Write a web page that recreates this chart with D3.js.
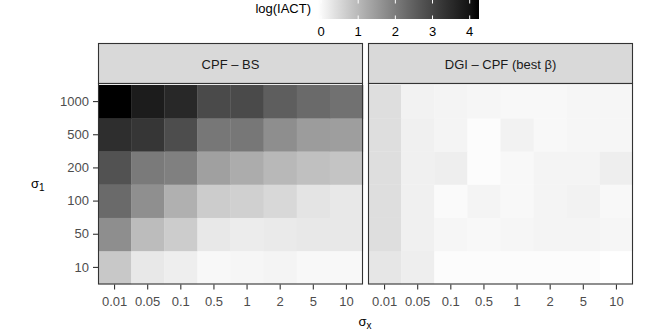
<!DOCTYPE html>
<html>
<head>
<meta charset="utf-8">
<script src="https://cdn.jsdelivr.net/npm/d3@7"></script>
<style>
  body { margin: 0; background: #fff; }
  svg { font-family: "Liberation Sans", Arial, sans-serif; }
  .tick-label { fill: #4d4d4d; font-size: 13px; }
</style>
</head>
<body>
<div id="chart"></div>
<script>
// σx on the x axis, σ1 on the y axis
const sigmaX = ['0.01', '0.05', '0.1', '0.5', '1', '2', '5', '10'];
const sigma1 = ['10', '50', '100', '200', '500', '1000'];
const methods = ['CPF – BS', 'DGI – CPF (best β)'];

// log(IACT), one row per sigma1 (10 .. 1000), columns follow sigmaX
const cpfBs = [
    [0.82, 0.34, 0.25, 0.10, 0.13, 0.16, 0.10, 0.10],
    [1.74, 1.01, 0.77, 0.34, 0.28, 0.31, 0.34, 0.34],
    [2.35, 1.73, 1.19, 0.77, 0.70, 0.58, 0.40, 0.34],
    [2.77, 2.07, 1.97, 1.45, 1.26, 1.07, 0.95, 0.89],
    [3.45, 3.29, 2.86, 2.13, 2.13, 1.74, 1.51, 1.48],
    [4.25, 3.81, 3.57, 2.92, 2.92, 2.55, 2.35, 2.23]
];
const dgiCpf = [
    [0.37, 0.25, 0.05, 0.05, 0.05, 0.05, 0.05, 0.00],
    [0.49, 0.22, 0.13, 0.10, 0.13, 0.16, 0.16, 0.13],
    [0.49, 0.22, 0.07, 0.16, 0.10, 0.16, 0.19, 0.10],
    [0.49, 0.22, 0.25, 0.05, 0.10, 0.16, 0.16, 0.25],
    [0.49, 0.22, 0.16, 0.05, 0.19, 0.10, 0.13, 0.13],
    [0.49, 0.19, 0.16, 0.13, 0.10, 0.10, 0.13, 0.13]
];
const legendTicks = [0, 1, 2, 3, 4];

const width = 664, height = 332;
const panelTop = 85, panelBottom = 284;
const stripTop = 43;
const panels = [
    { name: methods[0], x0: 98, x1: 363, values: cpfBs },
    { name: methods[1], x0: 368, x1: 633, values: dgiCpf }
];

const svg = d3.select('#chart').append('svg')
    .attr('width', width)
    .attr('height', height);

const allValues = cpfBs.flat().concat(dgiCpf.flat());
const maxVal = d3.max(allValues);
const color = d3.scaleSequential(d3.interpolateLab('#ffffff', '#000000'))
    .domain([0, maxVal]);

const yScale = d3.scaleBand()
    .domain(sigma1)
    .range([panelBottom, panelTop])
    .padding(0);

panels.forEach((p, pi) => {
    const xScale = d3.scaleBand()
        .domain(sigmaX)
        .range([p.x0, p.x1])
        .padding(0);

    const cells = [];
    p.values.forEach((row, ri) => {
        row.forEach((v, ci) => cells.push({ x: sigmaX[ci], y: sigma1[ri], v: v }));
    });

    const g = svg.append('g');

    // strip
    g.append('rect')
        .attr('x', p.x0 + 0.5)
        .attr('y', stripTop + 0.5)
        .attr('width', p.x1 - p.x0 - 1)
        .attr('height', panelTop - stripTop - 2)
        .attr('fill', '#d9d9d9')
        .attr('stroke', '#333')
        .attr('stroke-width', 1.1);

    g.append('text')
        .attr('x', (p.x0 + p.x1) / 2)
        .attr('y', (stripTop + panelTop) / 2)
        .attr('dy', '0.35em')
        .attr('text-anchor', 'middle')
        .attr('fill', '#1a1a1a')
        .style('font-size', '13px')
        .text(p.name);

    // tiles
    g.selectAll('.cell')
        .data(cells)
        .join('rect')
        .attr('class', 'cell')
        .attr('x', d => xScale(d.x))
        .attr('y', d => yScale(d.y))
        .attr('width', xScale.bandwidth() + 0.3)
        .attr('height', yScale.bandwidth() + 0.3)
        .attr('fill', d => color(d.v));

    // panel border
    g.append('rect')
        .attr('x', p.x0 + 0.5)
        .attr('y', panelTop - 1.5)
        .attr('width', p.x1 - p.x0 - 1)
        .attr('height', panelBottom - panelTop + 1.5)
        .attr('fill', 'none')
        .attr('stroke', '#333')
        .attr('stroke-width', 1.1);

    // x axis
    const xAxis = d3.axisBottom(xScale).tickSize(5).tickPadding(7);
    const xg = svg.append('g')
        .attr('transform', `translate(0,${panelBottom + 0.5})`)
        .call(xAxis);
    xg.select('.domain').remove();
    xg.selectAll('.tick line').attr('stroke', '#333').attr('stroke-width', 1.1);
    xg.selectAll('.tick text').attr('class', 'tick-label').attr('font-family', null).attr('font-size', null);

    if (pi === 0) {
        const yAxis = d3.axisLeft(yScale).tickSize(5).tickPadding(4);
        const yg = svg.append('g')
            .attr('transform', `translate(${p.x0},0)`)
            .call(yAxis);
        yg.select('.domain').remove();
        yg.selectAll('.tick line').attr('stroke', '#333').attr('stroke-width', 1.1);
        yg.selectAll('.tick text').attr('class', 'tick-label').attr('font-family', null).attr('font-size', null);
    }
});

// axis titles
const xt = svg.append('text')
    .attr('x', 365)
    .attr('y', 326)
    .attr('text-anchor', 'middle')
    .style('font-size', '13px')
    .attr('fill', '#000');
xt.append('tspan').text('σ');
xt.append('tspan').attr('dy', 3).style('font-size', '10px').text('x');

const yt = svg.append('text')
    .attr('x', 31)
    .attr('y', 188)
    .style('font-size', '13px')
    .attr('fill', '#000');
yt.append('tspan').text('σ');
yt.append('tspan').attr('dy', 3).style('font-size', '10px').text('1');

// legend
const legendX = d3.scaleLinear().domain([0, maxVal]).range([321, 479]);
const defs = svg.append('defs');
const grad = defs.append('linearGradient').attr('id', 'lg');
d3.range(0, 1.0001, 0.05).forEach(t => {
    grad.append('stop')
        .attr('offset', `${t * 100}%`)
        .attr('stop-color', color(t * maxVal));
});
svg.append('rect')
    .attr('x', 318)
    .attr('y', 0)
    .attr('width', 479 - 318)
    .attr('height', 19)
    .attr('fill', 'url(#lg)');

svg.selectAll('.lt-top')
    .data(legendTicks)
    .join('line')
    .attr('x1', d => legendX(d)).attr('x2', d => legendX(d))
    .attr('y1', 0).attr('y2', 3.5)
    .attr('stroke', '#fff');
svg.selectAll('.lt-bot')
    .data(legendTicks)
    .join('line')
    .attr('x1', d => legendX(d)).attr('x2', d => legendX(d))
    .attr('y1', 15.5).attr('y2', 19)
    .attr('stroke', '#fff');
svg.selectAll('.lt-label')
    .data(legendTicks)
    .join('text')
    .attr('x', d => legendX(d))
    .attr('y', 36)
    .attr('text-anchor', 'middle')
    .attr('fill', '#000')
    .style('font-size', '13px')
    .text(d => d);

svg.append('text')
    .attr('x', 311)
    .attr('y', 13)
    .attr('text-anchor', 'end')
    .attr('fill', '#000')
    .style('font-size', '13px')
    .text('log(IACT)');
</script>
</body>
</html>
